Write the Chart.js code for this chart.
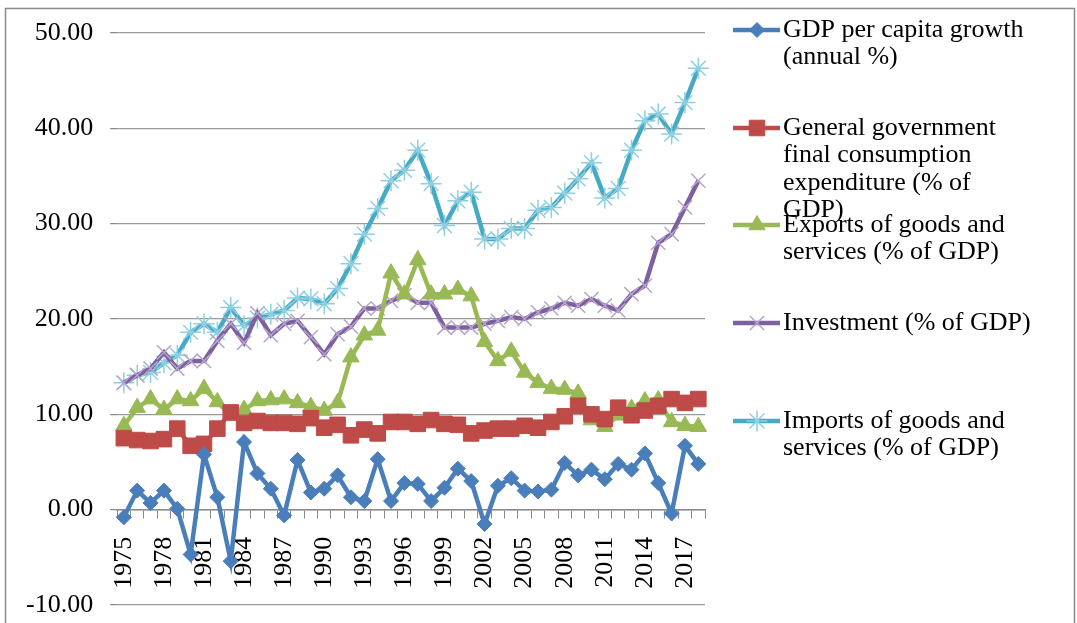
<!DOCTYPE html>
<html>
<head>
<meta charset="utf-8">
<script src="https://cdn.jsdelivr.net/npm/chart.js@4/dist/chart.umd.min.js"></script>
<style>
  html, body { margin: 0; padding: 0; background: #fff; }
  #wrap { width: 1077px; height: 623px; }
</style>
</head>
<body>
<div id="wrap"><canvas id="myChart" width="1077" height="623"></canvas></div>
<script>
// years on the x axis
const years = [];
for (let y = 1975; y <= 2018; y++) years.push(String(y));

// series values
const gdpGrowth = [-0.8, 2.0, 0.7, 2.0, 0.1, -4.7, 5.8, 1.3, -5.4, 7.1,
  3.8, 2.2, -0.6, 5.2, 1.8, 2.2, 3.6, 1.3, 0.9, 5.3,
  0.9, 2.8, 2.7, 0.9, 2.3, 4.3, 3.0, -1.5, 2.5, 3.3,
  2.0, 1.9, 2.1, 4.9, 3.6, 4.2, 3.2, 4.8, 4.2, 5.9,
  2.8, -0.4, 6.7, 4.8];
const govConsumption = [7.5, 7.3, 7.2, 7.4, 8.5, 6.7, 6.9, 8.5, 10.2, 9.1,
  9.3, 9.1, 9.1, 9.0, 9.6, 8.6, 8.9, 7.8, 8.4, 8.0,
  9.2, 9.2, 9.0, 9.4, 9.0, 8.9, 8.0, 8.3, 8.5, 8.5,
  8.8, 8.6, 9.2, 9.8, 10.9, 10.0, 9.5, 10.7, 9.9, 10.4,
  10.9, 11.6, 11.2, 11.6];
const exportsGdp = [8.8, 10.7, 11.6, 10.5, 11.6, 11.4, 12.7, 11.3, 9.9, 10.5,
  11.4, 11.5, 11.6, 11.2, 10.8, 10.4, 11.2, 16.0, 18.3, 18.8,
  24.8, 22.6, 26.2, 22.6, 22.6, 23.1, 22.4, 17.6, 15.6, 16.6,
  14.4, 13.3, 12.7, 12.6, 12.2, 9.4, 8.7, 9.9, 10.6, 11.4,
  11.5, 9.2, 8.8, 8.7];
const investment = [13.3, 14.1, 14.8, 16.5, 14.8, 15.6, 15.6, 17.7, 19.5, 17.5,
  20.6, 18.3, 19.5, 19.8, 18.1, 16.3, 18.4, 19.2, 21.1, 21.1,
  21.9, 22.5, 21.7, 21.7, 19.1, 19.1, 19.1, 19.5, 19.8, 20.2,
  20.0, 20.7, 21.1, 21.7, 21.4, 22.1, 21.4, 20.9, 22.6, 23.5,
  28.0, 28.9, 31.7, 34.5];
const importsGdp = [13.3, 14.1, 14.4, 15.4, 16.2, 18.6, 19.5, 18.6, 21.2, 19.3,
  20.1, 20.5, 20.9, 22.2, 22.1, 21.6, 23.2, 25.8, 28.9, 31.6,
  34.5, 35.6, 37.7, 34.2, 29.8, 32.4, 33.3, 28.4, 28.4, 29.5,
  29.5, 31.4, 31.7, 33.2, 34.7, 36.4, 32.7, 33.7, 37.7, 40.8,
  41.5, 39.4, 42.7, 46.3];

// legend texts, one array of lines per series
const seriesLabels = [
  ["GDP per capita growth", "(annual %)"],
  ["General government", "final consumption", "expenditure (% of", "GDP)"],
  ["Exports of goods and", "services (% of GDP)"],
  ["Investment (% of GDP)"],
  ["Imports of goods and", "services (% of GDP)"]
];
const yTicks = [-10, 0, 10, 20, 30, 40, 50];

const serif = "'Liberation Serif', 'Times New Roman', serif";

function series(label, data, color, markColor, style, radius, bw) {
  return {
    label: label.join(" "),
    data: data,
    borderColor: color,
    backgroundColor: markColor,
    pointBackgroundColor: markColor,
    pointBorderColor: markColor,
    pointStyle: style,
    pointRadius: radius,
    pointBorderWidth: bw,
    borderWidth: 4.5,
    tension: 0
  };
}

const datasets = [
  series(seriesLabels[0], gdpGrowth, "#4A7EBB", "#4A7EBB", "rectRot", 7.5, 1),
  series(seriesLabels[1], govConsumption, "#BE4B48", "#BE4B48", "rect", 11, 1),
  series(seriesLabels[2], exportsGdp, "#98B954", "#98B954", "triangle", 9.5, 1),
  series(seriesLabels[3], investment, "#7D60A0", "#B6A4CC", "crossRot", 10, 1.5),
  series(seriesLabels[4], importsGdp, "#46AAC5", "#8ED0E2", "star", 10.5, 1.5)
];

// frame round the whole chart and the legend at the right
const frameAndLegend = {
  id: "frameAndLegend",
  beforeDraw(chart) {
    const ctx = chart.ctx;
    ctx.save();
    ctx.fillStyle = "#fff";
    ctx.fillRect(0, 0, chart.width, chart.height);
    ctx.strokeStyle = "#8a8a8a";
    ctx.lineWidth = 1.5;
    ctx.strokeRect(5.5, 8.5, 1069, 700);
    ctx.restore();
  },
  afterDraw(chart) {
    const ctx = chart.ctx;
    const tops = [30, 128, 225, 323, 421];
    ctx.save();
    ctx.font = "26px " + serif;
    ctx.textBaseline = "middle";
    chart.data.datasets.forEach((ds, i) => {
      const y = tops[i];
      ctx.strokeStyle = ds.borderColor;
      ctx.lineWidth = 4.5;
      ctx.beginPath();
      ctx.moveTo(733, y);
      ctx.lineTo(780, y);
      ctx.stroke();
      ctx.fillStyle = ds.pointBackgroundColor;
      ctx.strokeStyle = ds.pointBorderColor;
      ctx.lineWidth = ds.pointBorderWidth;
      Chart.helpers.drawPoint(ctx, {
        pointStyle: ds.pointStyle,
        radius: ds.pointRadius,
        rotation: 0,
        borderWidth: ds.pointBorderWidth
      }, 757, y);
      ctx.fillStyle = "#000";
      seriesLabels[i].forEach((line, k) => {
        ctx.fillText(line, 783, y + k * 27.5);
      });
    });
    ctx.restore();
  }
};

new Chart(document.getElementById("myChart").getContext("2d"), {
  type: "line",
  data: { labels: years, datasets: datasets },
  plugins: [frameAndLegend],
  options: {
    responsive: false,
    animation: false,
    layout: { padding: { left: 24, top: 33, right: 372, bottom: 18 } },
    plugins: {
      legend: { display: false },
      tooltip: { enabled: false }
    },
    scales: {
      x: {
        position: { y: 0 },
        offset: true,
        grid: {
          display: true,
          drawOnChartArea: false,
          drawTicks: true,
          tickLength: 8,
          color: "#8a8a8a",
          offset: true
        },
        border: { display: true, color: "#8a8a8a", width: 1.5 },
        ticks: {
          autoSkip: false,
          maxRotation: 90,
          minRotation: 90,
          padding: 19,
          color: "#000",
          font: { family: serif, size: 26 },
          callback: function (v, i) { return i % 3 === 0 ? years[i] : ""; }
        }
      },
      y: {
        min: -10,
        max: 50,
        afterBuildTicks: function (axis) { axis.ticks = yTicks.map(v => ({ value: v })); },
        grid: {
          color: "#9a9a9a",
          lineWidth: 1.2,
          tickLength: 22,
          tickColor: "#8a8a8a",
          tickBorderDash: [0, 15, 7, 100]
        },
        border: { display: false },
        ticks: {
          padding: 2,
          color: "#000",
          font: { family: serif, size: 26 },
          callback: function (v) { return Number(v).toFixed(2); }
        }
      }
    }
  }
});
</script>
</body>
</html>
